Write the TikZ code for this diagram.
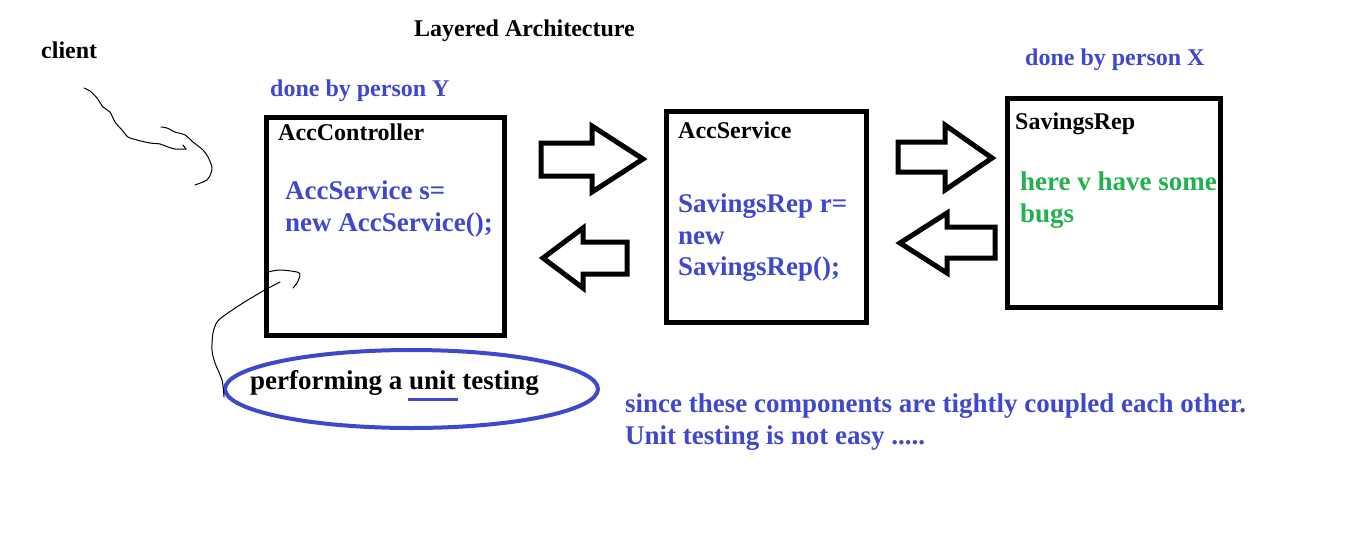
\documentclass[tikz,border=0pt]{standalone}
\usepackage{fontspec}
\setmainfont{Liberation Serif}
\usetikzlibrary{shapes.geometric}
\definecolor{pblue}{RGB}{63,72,204}
\definecolor{pgreen}{RGB}{34,177,76}
\begin{document}
\begin{tikzpicture}[x=1pt,y=-1pt,
  lbl/.style={inner sep=0pt, anchor=base west, font=\fontsize{24}{28}\selectfont\bfseries},
  biglbl/.style={inner sep=0pt, anchor=base west, font=\fontsize{27}{31.5}\selectfont\bfseries},
  bluelbl/.style={lbl, text=pblue},
  codetext/.style={inner sep=0pt, anchor=north west, align=left, text=pblue, font=\fontsize{27}{31.5}\selectfont\bfseries},
  layerbox/.style={draw, line width=5pt, inner sep=0pt, rectangle},
  fatarrow/.style={draw, line width=5pt, line join=miter, miter limit=4},
  pencil/.style={line width=1pt, line join=round, line cap=round}
]
\useasboundingbox (0,0) rectangle (1349,544);

% title and labels
\node[lbl] (title) at (414,36) {Layered Architecture};
\node[lbl] (client) at (41,58) {client};
\node[bluelbl] (doneY) at (270,96) {done by person Y};
\node[bluelbl] (doneX) at (1025,65) {done by person X};

% boxes
\node[layerbox, minimum width=238pt, minimum height=218pt] (ctrl) at (385,226) {};
\node[layerbox, minimum width=200pt, minimum height=211pt] (serv) at (766,216.5) {};
\node[layerbox, minimum width=213pt, minimum height=209pt] (rep) at (1113.5,202.5) {};

\node[lbl] (ctrlname) at (278,140) {AccController};
\node[lbl] (servname) at (678,138) {AccService};
\node[lbl] (repname) at (1015,129) {SavingsRep};

\node[codetext] (ctrlcode) at (285,181) {AccService s=\\new AccService();};
\node[codetext] (servcode) at (678,194) {SavingsRep r=\\new\\SavingsRep();};
\node[codetext, text=pgreen] (bugs) at (1020,172) {here v have some\\bugs};

% block arrows
\draw[fatarrow] (541,143) -- (592,143) -- (592,126) -- (643,159) -- (592,192) -- (592,176) -- (541,176) -- cycle;
\draw[fatarrow] (627,242) -- (583,242) -- (583,228) -- (543,258) -- (583,288) -- (583,274) -- (627,274) -- cycle;
\draw[fatarrow] (898,142) -- (945,142) -- (945,125) -- (992,158) -- (945,190) -- (945,172) -- (898,172) -- cycle;
\draw[fatarrow] (995,227) -- (947,227) -- (947,213) -- (900,243) -- (947,273) -- (947,258) -- (995,258) -- cycle;

% unit testing oval
\node[draw=pblue, line width=4pt, ellipse, minimum width=373pt, minimum height=78pt, inner sep=0pt] (oval) at (411.5,389) {};
\node[biglbl] (perf) at (250,389) {performing a unit testing};
\draw[pblue, line width=3pt] (408,399) -- (458,399);

\node[codetext] (since) at (625,394) {since these components are tightly coupled each other.\\Unit testing is not easy .....};

% freehand pencil strokes
\draw[pencil] plot[smooth, tension=0.5] coordinates {(84,88) (90,91) (97,98) (103,107) (110,112) (115,122) (122,130) (128,137) (137,140) (150,143) (160,144) (168,147) (175,149) (186,149)};
\draw[pencil] (183,145) -- (186,149);
\draw[pencil] plot[smooth, tension=0.5] coordinates {(161,127) (167,128) (175,132) (185,135) (193,142) (203,150) (208,157) (212,167) (211,173) (207,180) (195,185)};
\draw[pencil] plot[smooth, tension=0.5] coordinates {(280,282) (263,291) (243,303) (225,315) (217,322) (213,333) (212,350) (215,363) (222,380) (224,397)};
\draw[pencil] plot[smooth, tension=0.5] coordinates {(268,272) (280,270) (297,272) (300,275) (297,283) (293,288)};
\end{tikzpicture}
\end{document}
